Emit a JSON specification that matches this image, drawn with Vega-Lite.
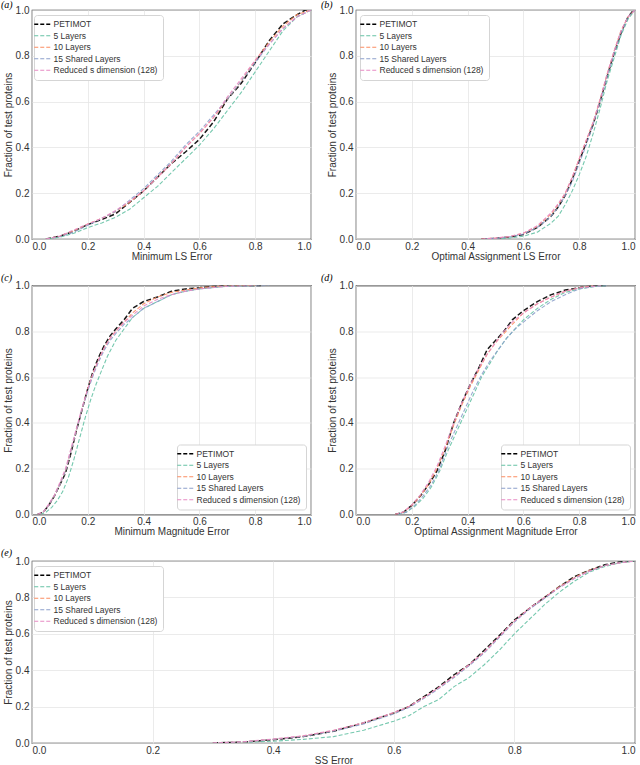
{
  "$schema": "https://vega.github.io/schema/vega-lite/v6.json",
  "padding": {"left": 0, "top": -1, "right": 0, "bottom": 0},
  "background": "white",
  "spacing": 9.5,
  "resolve": {"scale": {"color": "independent"}, "legend": {"color": "independent"}},
  "datasets": {
    "a": [
      {"s":"PETIMOT","x":0.05,"y":0},{"s":"PETIMOT","x":0.1,"y":0.012},{"s":"PETIMOT","x":0.15,"y":0.034},{"s":"PETIMOT","x":0.2,"y":0.063},{"s":"PETIMOT","x":0.25,"y":0.085},{"s":"PETIMOT","x":0.3,"y":0.11},{"s":"PETIMOT","x":0.35,"y":0.16},{"s":"PETIMOT","x":0.4,"y":0.21},{"s":"PETIMOT","x":0.45,"y":0.27},{"s":"PETIMOT","x":0.5,"y":0.33},{"s":"PETIMOT","x":0.55,"y":0.38},{"s":"PETIMOT","x":0.6,"y":0.435},{"s":"PETIMOT","x":0.65,"y":0.51},{"s":"PETIMOT","x":0.7,"y":0.61},{"s":"PETIMOT","x":0.75,"y":0.68},{"s":"PETIMOT","x":0.8,"y":0.77},{"s":"PETIMOT","x":0.85,"y":0.866},{"s":"PETIMOT","x":0.9,"y":0.94},{"s":"PETIMOT","x":0.95,"y":0.98},{"s":"PETIMOT","x":0.98,"y":1.0},{"s":"PETIMOT","x":1.0,"y":1.0},
      {"s":"5 Layers","x":0.06,"y":0},{"s":"5 Layers","x":0.1,"y":0.008},{"s":"5 Layers","x":0.15,"y":0.025},{"s":"5 Layers","x":0.2,"y":0.05},{"s":"5 Layers","x":0.25,"y":0.07},{"s":"5 Layers","x":0.3,"y":0.095},{"s":"5 Layers","x":0.35,"y":0.13},{"s":"5 Layers","x":0.4,"y":0.18},{"s":"5 Layers","x":0.45,"y":0.23},{"s":"5 Layers","x":0.5,"y":0.29},{"s":"5 Layers","x":0.55,"y":0.35},{"s":"5 Layers","x":0.6,"y":0.41},{"s":"5 Layers","x":0.65,"y":0.48},{"s":"5 Layers","x":0.7,"y":0.56},{"s":"5 Layers","x":0.75,"y":0.64},{"s":"5 Layers","x":0.8,"y":0.73},{"s":"5 Layers","x":0.85,"y":0.82},{"s":"5 Layers","x":0.9,"y":0.91},{"s":"5 Layers","x":0.95,"y":0.97},{"s":"5 Layers","x":1.0,"y":1.0},
      {"s":"10 Layers","x":0.05,"y":0},{"s":"10 Layers","x":0.1,"y":0.012},{"s":"10 Layers","x":0.15,"y":0.035},{"s":"10 Layers","x":0.2,"y":0.065},{"s":"10 Layers","x":0.25,"y":0.09},{"s":"10 Layers","x":0.3,"y":0.12},{"s":"10 Layers","x":0.35,"y":0.16},{"s":"10 Layers","x":0.4,"y":0.21},{"s":"10 Layers","x":0.45,"y":0.27},{"s":"10 Layers","x":0.5,"y":0.33},{"s":"10 Layers","x":0.55,"y":0.4},{"s":"10 Layers","x":0.6,"y":0.46},{"s":"10 Layers","x":0.65,"y":0.53},{"s":"10 Layers","x":0.7,"y":0.61},{"s":"10 Layers","x":0.75,"y":0.69},{"s":"10 Layers","x":0.8,"y":0.78},{"s":"10 Layers","x":0.85,"y":0.86},{"s":"10 Layers","x":0.9,"y":0.93},{"s":"10 Layers","x":0.95,"y":0.98},{"s":"10 Layers","x":1.0,"y":1.0},
      {"s":"15 Shared Layers","x":0.05,"y":0},{"s":"15 Shared Layers","x":0.1,"y":0.01},{"s":"15 Shared Layers","x":0.15,"y":0.03},{"s":"15 Shared Layers","x":0.2,"y":0.06},{"s":"15 Shared Layers","x":0.25,"y":0.09},{"s":"15 Shared Layers","x":0.3,"y":0.12},{"s":"15 Shared Layers","x":0.35,"y":0.17},{"s":"15 Shared Layers","x":0.4,"y":0.22},{"s":"15 Shared Layers","x":0.45,"y":0.28},{"s":"15 Shared Layers","x":0.5,"y":0.34},{"s":"15 Shared Layers","x":0.55,"y":0.41},{"s":"15 Shared Layers","x":0.6,"y":0.47},{"s":"15 Shared Layers","x":0.65,"y":0.54},{"s":"15 Shared Layers","x":0.7,"y":0.61},{"s":"15 Shared Layers","x":0.75,"y":0.69},{"s":"15 Shared Layers","x":0.8,"y":0.77},{"s":"15 Shared Layers","x":0.85,"y":0.85},{"s":"15 Shared Layers","x":0.9,"y":0.92},{"s":"15 Shared Layers","x":0.95,"y":0.97},{"s":"15 Shared Layers","x":1.0,"y":1.0},
      {"s":"Reduced s dimension (128)","x":0.05,"y":0},{"s":"Reduced s dimension (128)","x":0.1,"y":0.013},{"s":"Reduced s dimension (128)","x":0.15,"y":0.04},{"s":"Reduced s dimension (128)","x":0.2,"y":0.065},{"s":"Reduced s dimension (128)","x":0.25,"y":0.09},{"s":"Reduced s dimension (128)","x":0.3,"y":0.125},{"s":"Reduced s dimension (128)","x":0.35,"y":0.165},{"s":"Reduced s dimension (128)","x":0.4,"y":0.21},{"s":"Reduced s dimension (128)","x":0.45,"y":0.27},{"s":"Reduced s dimension (128)","x":0.5,"y":0.33},{"s":"Reduced s dimension (128)","x":0.55,"y":0.4},{"s":"Reduced s dimension (128)","x":0.6,"y":0.46},{"s":"Reduced s dimension (128)","x":0.65,"y":0.53},{"s":"Reduced s dimension (128)","x":0.7,"y":0.62},{"s":"Reduced s dimension (128)","x":0.75,"y":0.7},{"s":"Reduced s dimension (128)","x":0.8,"y":0.78},{"s":"Reduced s dimension (128)","x":0.85,"y":0.85},{"s":"Reduced s dimension (128)","x":0.9,"y":0.92},{"s":"Reduced s dimension (128)","x":0.95,"y":0.97},{"s":"Reduced s dimension (128)","x":1.0,"y":1.0}
    ],
    "b": [
      {"s":"PETIMOT","x":0.45,"y":0},{"s":"PETIMOT","x":0.5,"y":0.003},{"s":"PETIMOT","x":0.55,"y":0.008},{"s":"PETIMOT","x":0.6,"y":0.02},{"s":"PETIMOT","x":0.65,"y":0.05},{"s":"PETIMOT","x":0.7,"y":0.1},{"s":"PETIMOT","x":0.725,"y":0.14},{"s":"PETIMOT","x":0.75,"y":0.19},{"s":"PETIMOT","x":0.775,"y":0.26},{"s":"PETIMOT","x":0.8,"y":0.34},{"s":"PETIMOT","x":0.825,"y":0.42},{"s":"PETIMOT","x":0.85,"y":0.5},{"s":"PETIMOT","x":0.875,"y":0.6},{"s":"PETIMOT","x":0.9,"y":0.71},{"s":"PETIMOT","x":0.925,"y":0.81},{"s":"PETIMOT","x":0.95,"y":0.9},{"s":"PETIMOT","x":0.975,"y":0.97},{"s":"PETIMOT","x":0.995,"y":1.0},
      {"s":"5 Layers","x":0.5,"y":0},{"s":"5 Layers","x":0.55,"y":0.004},{"s":"5 Layers","x":0.6,"y":0.012},{"s":"5 Layers","x":0.65,"y":0.03},{"s":"5 Layers","x":0.7,"y":0.07},{"s":"5 Layers","x":0.725,"y":0.1},{"s":"5 Layers","x":0.75,"y":0.15},{"s":"5 Layers","x":0.775,"y":0.21},{"s":"5 Layers","x":0.8,"y":0.28},{"s":"5 Layers","x":0.825,"y":0.36},{"s":"5 Layers","x":0.85,"y":0.46},{"s":"5 Layers","x":0.875,"y":0.57},{"s":"5 Layers","x":0.9,"y":0.69},{"s":"5 Layers","x":0.925,"y":0.79},{"s":"5 Layers","x":0.95,"y":0.89},{"s":"5 Layers","x":0.975,"y":0.96},{"s":"5 Layers","x":1.0,"y":1.0},
      {"s":"10 Layers","x":0.45,"y":0},{"s":"10 Layers","x":0.5,"y":0.004},{"s":"10 Layers","x":0.55,"y":0.01},{"s":"10 Layers","x":0.6,"y":0.025},{"s":"10 Layers","x":0.65,"y":0.055},{"s":"10 Layers","x":0.7,"y":0.11},{"s":"10 Layers","x":0.725,"y":0.15},{"s":"10 Layers","x":0.75,"y":0.2},{"s":"10 Layers","x":0.775,"y":0.27},{"s":"10 Layers","x":0.8,"y":0.35},{"s":"10 Layers","x":0.825,"y":0.43},{"s":"10 Layers","x":0.85,"y":0.51},{"s":"10 Layers","x":0.875,"y":0.61},{"s":"10 Layers","x":0.9,"y":0.72},{"s":"10 Layers","x":0.925,"y":0.82},{"s":"10 Layers","x":0.95,"y":0.91},{"s":"10 Layers","x":0.975,"y":0.97},{"s":"10 Layers","x":1.0,"y":1.0},
      {"s":"15 Shared Layers","x":0.46,"y":0},{"s":"15 Shared Layers","x":0.5,"y":0.003},{"s":"15 Shared Layers","x":0.55,"y":0.009},{"s":"15 Shared Layers","x":0.6,"y":0.022},{"s":"15 Shared Layers","x":0.65,"y":0.05},{"s":"15 Shared Layers","x":0.7,"y":0.1},{"s":"15 Shared Layers","x":0.725,"y":0.14},{"s":"15 Shared Layers","x":0.75,"y":0.19},{"s":"15 Shared Layers","x":0.775,"y":0.25},{"s":"15 Shared Layers","x":0.8,"y":0.33},{"s":"15 Shared Layers","x":0.825,"y":0.41},{"s":"15 Shared Layers","x":0.85,"y":0.5},{"s":"15 Shared Layers","x":0.875,"y":0.6},{"s":"15 Shared Layers","x":0.9,"y":0.71},{"s":"15 Shared Layers","x":0.925,"y":0.81},{"s":"15 Shared Layers","x":0.95,"y":0.9},{"s":"15 Shared Layers","x":0.975,"y":0.97},{"s":"15 Shared Layers","x":1.0,"y":1.0},
      {"s":"Reduced s dimension (128)","x":0.45,"y":0},{"s":"Reduced s dimension (128)","x":0.5,"y":0.004},{"s":"Reduced s dimension (128)","x":0.55,"y":0.011},{"s":"Reduced s dimension (128)","x":0.6,"y":0.026},{"s":"Reduced s dimension (128)","x":0.65,"y":0.058},{"s":"Reduced s dimension (128)","x":0.7,"y":0.115},{"s":"Reduced s dimension (128)","x":0.725,"y":0.155},{"s":"Reduced s dimension (128)","x":0.75,"y":0.2},{"s":"Reduced s dimension (128)","x":0.775,"y":0.27},{"s":"Reduced s dimension (128)","x":0.8,"y":0.35},{"s":"Reduced s dimension (128)","x":0.825,"y":0.43},{"s":"Reduced s dimension (128)","x":0.85,"y":0.51},{"s":"Reduced s dimension (128)","x":0.875,"y":0.61},{"s":"Reduced s dimension (128)","x":0.9,"y":0.72},{"s":"Reduced s dimension (128)","x":0.925,"y":0.82},{"s":"Reduced s dimension (128)","x":0.95,"y":0.91},{"s":"Reduced s dimension (128)","x":0.975,"y":0.97},{"s":"Reduced s dimension (128)","x":1.0,"y":1.0}
    ],
    "c": [
      {"s":"PETIMOT","x":0.02,"y":0},{"s":"PETIMOT","x":0.04,"y":0.01},{"s":"PETIMOT","x":0.06,"y":0.04},{"s":"PETIMOT","x":0.08,"y":0.08},{"s":"PETIMOT","x":0.1,"y":0.13},{"s":"PETIMOT","x":0.12,"y":0.18},{"s":"PETIMOT","x":0.14,"y":0.27},{"s":"PETIMOT","x":0.16,"y":0.37},{"s":"PETIMOT","x":0.18,"y":0.46},{"s":"PETIMOT","x":0.2,"y":0.55},{"s":"PETIMOT","x":0.22,"y":0.63},{"s":"PETIMOT","x":0.24,"y":0.69},{"s":"PETIMOT","x":0.26,"y":0.74},{"s":"PETIMOT","x":0.28,"y":0.78},{"s":"PETIMOT","x":0.3,"y":0.81},{"s":"PETIMOT","x":0.33,"y":0.85},{"s":"PETIMOT","x":0.36,"y":0.9},{"s":"PETIMOT","x":0.4,"y":0.93},{"s":"PETIMOT","x":0.45,"y":0.95},{"s":"PETIMOT","x":0.5,"y":0.975},{"s":"PETIMOT","x":0.55,"y":0.985},{"s":"PETIMOT","x":0.6,"y":0.99},{"s":"PETIMOT","x":0.65,"y":0.997},{"s":"PETIMOT","x":0.7,"y":1.0},{"s":"PETIMOT","x":0.82,"y":1.0},
      {"s":"5 Layers","x":0.03,"y":0},{"s":"5 Layers","x":0.05,"y":0.01},{"s":"5 Layers","x":0.07,"y":0.03},{"s":"5 Layers","x":0.09,"y":0.06},{"s":"5 Layers","x":0.11,"y":0.1},{"s":"5 Layers","x":0.13,"y":0.16},{"s":"5 Layers","x":0.15,"y":0.24},{"s":"5 Layers","x":0.17,"y":0.33},{"s":"5 Layers","x":0.19,"y":0.42},{"s":"5 Layers","x":0.21,"y":0.5},{"s":"5 Layers","x":0.23,"y":0.57},{"s":"5 Layers","x":0.25,"y":0.63},{"s":"5 Layers","x":0.27,"y":0.69},{"s":"5 Layers","x":0.3,"y":0.76},{"s":"5 Layers","x":0.33,"y":0.81},{"s":"5 Layers","x":0.36,"y":0.86},{"s":"5 Layers","x":0.4,"y":0.9},{"s":"5 Layers","x":0.45,"y":0.93},{"s":"5 Layers","x":0.5,"y":0.96},{"s":"5 Layers","x":0.55,"y":0.975},{"s":"5 Layers","x":0.6,"y":0.985},{"s":"5 Layers","x":0.7,"y":0.997},{"s":"5 Layers","x":0.8,"y":1.0},
      {"s":"10 Layers","x":0.02,"y":0},{"s":"10 Layers","x":0.04,"y":0.01},{"s":"10 Layers","x":0.06,"y":0.04},{"s":"10 Layers","x":0.08,"y":0.08},{"s":"10 Layers","x":0.1,"y":0.13},{"s":"10 Layers","x":0.12,"y":0.19},{"s":"10 Layers","x":0.14,"y":0.28},{"s":"10 Layers","x":0.16,"y":0.37},{"s":"10 Layers","x":0.18,"y":0.46},{"s":"10 Layers","x":0.2,"y":0.55},{"s":"10 Layers","x":0.22,"y":0.62},{"s":"10 Layers","x":0.24,"y":0.68},{"s":"10 Layers","x":0.26,"y":0.73},{"s":"10 Layers","x":0.28,"y":0.77},{"s":"10 Layers","x":0.3,"y":0.8},{"s":"10 Layers","x":0.33,"y":0.84},{"s":"10 Layers","x":0.36,"y":0.88},{"s":"10 Layers","x":0.4,"y":0.92},{"s":"10 Layers","x":0.45,"y":0.95},{"s":"10 Layers","x":0.5,"y":0.97},{"s":"10 Layers","x":0.55,"y":0.98},{"s":"10 Layers","x":0.6,"y":0.99},{"s":"10 Layers","x":0.7,"y":1.0},{"s":"10 Layers","x":0.8,"y":1.0},
      {"s":"15 Shared Layers","x":0.02,"y":0},{"s":"15 Shared Layers","x":0.04,"y":0.01},{"s":"15 Shared Layers","x":0.06,"y":0.04},{"s":"15 Shared Layers","x":0.08,"y":0.08},{"s":"15 Shared Layers","x":0.1,"y":0.13},{"s":"15 Shared Layers","x":0.12,"y":0.19},{"s":"15 Shared Layers","x":0.14,"y":0.28},{"s":"15 Shared Layers","x":0.16,"y":0.37},{"s":"15 Shared Layers","x":0.18,"y":0.46},{"s":"15 Shared Layers","x":0.2,"y":0.54},{"s":"15 Shared Layers","x":0.22,"y":0.61},{"s":"15 Shared Layers","x":0.24,"y":0.67},{"s":"15 Shared Layers","x":0.26,"y":0.72},{"s":"15 Shared Layers","x":0.28,"y":0.76},{"s":"15 Shared Layers","x":0.3,"y":0.79},{"s":"15 Shared Layers","x":0.33,"y":0.83},{"s":"15 Shared Layers","x":0.36,"y":0.86},{"s":"15 Shared Layers","x":0.4,"y":0.9},{"s":"15 Shared Layers","x":0.45,"y":0.93},{"s":"15 Shared Layers","x":0.5,"y":0.96},{"s":"15 Shared Layers","x":0.55,"y":0.975},{"s":"15 Shared Layers","x":0.6,"y":0.985},{"s":"15 Shared Layers","x":0.7,"y":0.997},{"s":"15 Shared Layers","x":0.85,"y":1.0},
      {"s":"Reduced s dimension (128)","x":0.02,"y":0},{"s":"Reduced s dimension (128)","x":0.04,"y":0.012},{"s":"Reduced s dimension (128)","x":0.06,"y":0.045},{"s":"Reduced s dimension (128)","x":0.08,"y":0.085},{"s":"Reduced s dimension (128)","x":0.1,"y":0.14},{"s":"Reduced s dimension (128)","x":0.12,"y":0.2},{"s":"Reduced s dimension (128)","x":0.14,"y":0.29},{"s":"Reduced s dimension (128)","x":0.16,"y":0.38},{"s":"Reduced s dimension (128)","x":0.18,"y":0.47},{"s":"Reduced s dimension (128)","x":0.2,"y":0.55},{"s":"Reduced s dimension (128)","x":0.22,"y":0.62},{"s":"Reduced s dimension (128)","x":0.24,"y":0.68},{"s":"Reduced s dimension (128)","x":0.26,"y":0.73},{"s":"Reduced s dimension (128)","x":0.28,"y":0.77},{"s":"Reduced s dimension (128)","x":0.3,"y":0.8},{"s":"Reduced s dimension (128)","x":0.33,"y":0.84},{"s":"Reduced s dimension (128)","x":0.36,"y":0.87},{"s":"Reduced s dimension (128)","x":0.4,"y":0.91},{"s":"Reduced s dimension (128)","x":0.45,"y":0.94},{"s":"Reduced s dimension (128)","x":0.5,"y":0.96},{"s":"Reduced s dimension (128)","x":0.55,"y":0.975},{"s":"Reduced s dimension (128)","x":0.6,"y":0.985},{"s":"Reduced s dimension (128)","x":0.7,"y":0.997},{"s":"Reduced s dimension (128)","x":0.8,"y":1.0}
    ],
    "d": [
      {"s":"PETIMOT","x":0.14,"y":0},{"s":"PETIMOT","x":0.17,"y":0.01},{"s":"PETIMOT","x":0.2,"y":0.04},{"s":"PETIMOT","x":0.23,"y":0.08},{"s":"PETIMOT","x":0.26,"y":0.13},{"s":"PETIMOT","x":0.29,"y":0.19},{"s":"PETIMOT","x":0.32,"y":0.28},{"s":"PETIMOT","x":0.35,"y":0.4},{"s":"PETIMOT","x":0.38,"y":0.49},{"s":"PETIMOT","x":0.41,"y":0.57},{"s":"PETIMOT","x":0.44,"y":0.64},{"s":"PETIMOT","x":0.47,"y":0.72},{"s":"PETIMOT","x":0.5,"y":0.76},{"s":"PETIMOT","x":0.53,"y":0.8},{"s":"PETIMOT","x":0.56,"y":0.85},{"s":"PETIMOT","x":0.6,"y":0.89},{"s":"PETIMOT","x":0.65,"y":0.93},{"s":"PETIMOT","x":0.7,"y":0.96},{"s":"PETIMOT","x":0.75,"y":0.98},{"s":"PETIMOT","x":0.8,"y":0.99},{"s":"PETIMOT","x":0.85,"y":1.0},{"s":"PETIMOT","x":0.9,"y":1.0},
      {"s":"5 Layers","x":0.15,"y":0},{"s":"5 Layers","x":0.18,"y":0.01},{"s":"5 Layers","x":0.21,"y":0.035},{"s":"5 Layers","x":0.24,"y":0.07},{"s":"5 Layers","x":0.27,"y":0.12},{"s":"5 Layers","x":0.3,"y":0.19},{"s":"5 Layers","x":0.33,"y":0.28},{"s":"5 Layers","x":0.36,"y":0.36},{"s":"5 Layers","x":0.39,"y":0.44},{"s":"5 Layers","x":0.42,"y":0.52},{"s":"5 Layers","x":0.45,"y":0.6},{"s":"5 Layers","x":0.48,"y":0.66},{"s":"5 Layers","x":0.51,"y":0.72},{"s":"5 Layers","x":0.54,"y":0.77},{"s":"5 Layers","x":0.57,"y":0.81},{"s":"5 Layers","x":0.6,"y":0.85},{"s":"5 Layers","x":0.65,"y":0.9},{"s":"5 Layers","x":0.7,"y":0.94},{"s":"5 Layers","x":0.75,"y":0.97},{"s":"5 Layers","x":0.8,"y":0.985},{"s":"5 Layers","x":0.85,"y":0.995},{"s":"5 Layers","x":0.9,"y":1.0},
      {"s":"10 Layers","x":0.14,"y":0},{"s":"10 Layers","x":0.17,"y":0.01},{"s":"10 Layers","x":0.2,"y":0.04},{"s":"10 Layers","x":0.23,"y":0.08},{"s":"10 Layers","x":0.26,"y":0.13},{"s":"10 Layers","x":0.29,"y":0.2},{"s":"10 Layers","x":0.32,"y":0.29},{"s":"10 Layers","x":0.35,"y":0.39},{"s":"10 Layers","x":0.38,"y":0.48},{"s":"10 Layers","x":0.41,"y":0.56},{"s":"10 Layers","x":0.44,"y":0.63},{"s":"10 Layers","x":0.47,"y":0.7},{"s":"10 Layers","x":0.5,"y":0.75},{"s":"10 Layers","x":0.53,"y":0.79},{"s":"10 Layers","x":0.56,"y":0.83},{"s":"10 Layers","x":0.6,"y":0.88},{"s":"10 Layers","x":0.65,"y":0.92},{"s":"10 Layers","x":0.7,"y":0.95},{"s":"10 Layers","x":0.75,"y":0.975},{"s":"10 Layers","x":0.8,"y":0.99},{"s":"10 Layers","x":0.85,"y":1.0},
      {"s":"15 Shared Layers","x":0.15,"y":0},{"s":"15 Shared Layers","x":0.18,"y":0.01},{"s":"15 Shared Layers","x":0.21,"y":0.04},{"s":"15 Shared Layers","x":0.24,"y":0.08},{"s":"15 Shared Layers","x":0.27,"y":0.13},{"s":"15 Shared Layers","x":0.3,"y":0.2},{"s":"15 Shared Layers","x":0.33,"y":0.3},{"s":"15 Shared Layers","x":0.36,"y":0.38},{"s":"15 Shared Layers","x":0.39,"y":0.46},{"s":"15 Shared Layers","x":0.42,"y":0.54},{"s":"15 Shared Layers","x":0.45,"y":0.61},{"s":"15 Shared Layers","x":0.48,"y":0.67},{"s":"15 Shared Layers","x":0.51,"y":0.72},{"s":"15 Shared Layers","x":0.54,"y":0.77},{"s":"15 Shared Layers","x":0.57,"y":0.81},{"s":"15 Shared Layers","x":0.6,"y":0.84},{"s":"15 Shared Layers","x":0.65,"y":0.89},{"s":"15 Shared Layers","x":0.7,"y":0.93},{"s":"15 Shared Layers","x":0.75,"y":0.96},{"s":"15 Shared Layers","x":0.8,"y":0.985},{"s":"15 Shared Layers","x":0.85,"y":0.995},{"s":"15 Shared Layers","x":0.9,"y":1.0},
      {"s":"Reduced s dimension (128)","x":0.14,"y":0},{"s":"Reduced s dimension (128)","x":0.17,"y":0.012},{"s":"Reduced s dimension (128)","x":0.2,"y":0.042},{"s":"Reduced s dimension (128)","x":0.23,"y":0.085},{"s":"Reduced s dimension (128)","x":0.26,"y":0.14},{"s":"Reduced s dimension (128)","x":0.29,"y":0.21},{"s":"Reduced s dimension (128)","x":0.32,"y":0.3},{"s":"Reduced s dimension (128)","x":0.35,"y":0.4},{"s":"Reduced s dimension (128)","x":0.38,"y":0.49},{"s":"Reduced s dimension (128)","x":0.41,"y":0.57},{"s":"Reduced s dimension (128)","x":0.44,"y":0.64},{"s":"Reduced s dimension (128)","x":0.47,"y":0.7},{"s":"Reduced s dimension (128)","x":0.5,"y":0.75},{"s":"Reduced s dimension (128)","x":0.53,"y":0.8},{"s":"Reduced s dimension (128)","x":0.56,"y":0.84},{"s":"Reduced s dimension (128)","x":0.6,"y":0.88},{"s":"Reduced s dimension (128)","x":0.65,"y":0.92},{"s":"Reduced s dimension (128)","x":0.7,"y":0.95},{"s":"Reduced s dimension (128)","x":0.75,"y":0.975},{"s":"Reduced s dimension (128)","x":0.8,"y":0.99},{"s":"Reduced s dimension (128)","x":0.88,"y":1.0}
    ],
    "e": [
      {"s":"PETIMOT","x":0.3,"y":0},{"s":"PETIMOT","x":0.35,"y":0.005},{"s":"PETIMOT","x":0.4,"y":0.018},{"s":"PETIMOT","x":0.45,"y":0.035},{"s":"PETIMOT","x":0.5,"y":0.065},{"s":"PETIMOT","x":0.55,"y":0.11},{"s":"PETIMOT","x":0.6,"y":0.165},{"s":"PETIMOT","x":0.625,"y":0.2},{"s":"PETIMOT","x":0.65,"y":0.255},{"s":"PETIMOT","x":0.675,"y":0.31},{"s":"PETIMOT","x":0.7,"y":0.375},{"s":"PETIMOT","x":0.725,"y":0.43},{"s":"PETIMOT","x":0.75,"y":0.51},{"s":"PETIMOT","x":0.775,"y":0.59},{"s":"PETIMOT","x":0.8,"y":0.675},{"s":"PETIMOT","x":0.825,"y":0.74},{"s":"PETIMOT","x":0.85,"y":0.8},{"s":"PETIMOT","x":0.875,"y":0.86},{"s":"PETIMOT","x":0.9,"y":0.915},{"s":"PETIMOT","x":0.925,"y":0.95},{"s":"PETIMOT","x":0.95,"y":0.98},{"s":"PETIMOT","x":0.975,"y":0.995},{"s":"PETIMOT","x":1.0,"y":1.0},
      {"s":"5 Layers","x":0.32,"y":0},{"s":"5 Layers","x":0.4,"y":0.01},{"s":"5 Layers","x":0.45,"y":0.02},{"s":"5 Layers","x":0.5,"y":0.035},{"s":"5 Layers","x":0.55,"y":0.07},{"s":"5 Layers","x":0.6,"y":0.12},{"s":"5 Layers","x":0.625,"y":0.15},{"s":"5 Layers","x":0.65,"y":0.2},{"s":"5 Layers","x":0.675,"y":0.24},{"s":"5 Layers","x":0.7,"y":0.31},{"s":"5 Layers","x":0.725,"y":0.36},{"s":"5 Layers","x":0.75,"y":0.43},{"s":"5 Layers","x":0.775,"y":0.51},{"s":"5 Layers","x":0.8,"y":0.6},{"s":"5 Layers","x":0.825,"y":0.68},{"s":"5 Layers","x":0.85,"y":0.76},{"s":"5 Layers","x":0.875,"y":0.83},{"s":"5 Layers","x":0.9,"y":0.89},{"s":"5 Layers","x":0.925,"y":0.94},{"s":"5 Layers","x":0.95,"y":0.97},{"s":"5 Layers","x":0.975,"y":0.99},{"s":"5 Layers","x":1.0,"y":1.0},
      {"s":"10 Layers","x":0.3,"y":0},{"s":"10 Layers","x":0.35,"y":0.006},{"s":"10 Layers","x":0.4,"y":0.02},{"s":"10 Layers","x":0.45,"y":0.038},{"s":"10 Layers","x":0.5,"y":0.068},{"s":"10 Layers","x":0.55,"y":0.11},{"s":"10 Layers","x":0.6,"y":0.165},{"s":"10 Layers","x":0.625,"y":0.2},{"s":"10 Layers","x":0.65,"y":0.25},{"s":"10 Layers","x":0.675,"y":0.305},{"s":"10 Layers","x":0.7,"y":0.365},{"s":"10 Layers","x":0.725,"y":0.43},{"s":"10 Layers","x":0.75,"y":0.5},{"s":"10 Layers","x":0.775,"y":0.585},{"s":"10 Layers","x":0.8,"y":0.67},{"s":"10 Layers","x":0.825,"y":0.74},{"s":"10 Layers","x":0.85,"y":0.8},{"s":"10 Layers","x":0.875,"y":0.86},{"s":"10 Layers","x":0.9,"y":0.91},{"s":"10 Layers","x":0.925,"y":0.95},{"s":"10 Layers","x":0.95,"y":0.975},{"s":"10 Layers","x":0.975,"y":0.99},{"s":"10 Layers","x":1.0,"y":1.0},
      {"s":"15 Shared Layers","x":0.3,"y":0},{"s":"15 Shared Layers","x":0.35,"y":0.006},{"s":"15 Shared Layers","x":0.4,"y":0.02},{"s":"15 Shared Layers","x":0.45,"y":0.036},{"s":"15 Shared Layers","x":0.5,"y":0.065},{"s":"15 Shared Layers","x":0.55,"y":0.105},{"s":"15 Shared Layers","x":0.6,"y":0.16},{"s":"15 Shared Layers","x":0.625,"y":0.195},{"s":"15 Shared Layers","x":0.65,"y":0.245},{"s":"15 Shared Layers","x":0.675,"y":0.3},{"s":"15 Shared Layers","x":0.7,"y":0.36},{"s":"15 Shared Layers","x":0.725,"y":0.425},{"s":"15 Shared Layers","x":0.75,"y":0.495},{"s":"15 Shared Layers","x":0.775,"y":0.58},{"s":"15 Shared Layers","x":0.8,"y":0.665},{"s":"15 Shared Layers","x":0.825,"y":0.735},{"s":"15 Shared Layers","x":0.85,"y":0.795},{"s":"15 Shared Layers","x":0.875,"y":0.855},{"s":"15 Shared Layers","x":0.9,"y":0.905},{"s":"15 Shared Layers","x":0.925,"y":0.945},{"s":"15 Shared Layers","x":0.95,"y":0.975},{"s":"15 Shared Layers","x":0.975,"y":0.99},{"s":"15 Shared Layers","x":1.0,"y":1.0},
      {"s":"Reduced s dimension (128)","x":0.3,"y":0},{"s":"Reduced s dimension (128)","x":0.35,"y":0.007},{"s":"Reduced s dimension (128)","x":0.4,"y":0.022},{"s":"Reduced s dimension (128)","x":0.45,"y":0.04},{"s":"Reduced s dimension (128)","x":0.5,"y":0.07},{"s":"Reduced s dimension (128)","x":0.55,"y":0.112},{"s":"Reduced s dimension (128)","x":0.6,"y":0.168},{"s":"Reduced s dimension (128)","x":0.625,"y":0.2},{"s":"Reduced s dimension (128)","x":0.65,"y":0.25},{"s":"Reduced s dimension (128)","x":0.675,"y":0.305},{"s":"Reduced s dimension (128)","x":0.7,"y":0.365},{"s":"Reduced s dimension (128)","x":0.725,"y":0.43},{"s":"Reduced s dimension (128)","x":0.75,"y":0.5},{"s":"Reduced s dimension (128)","x":0.775,"y":0.585},{"s":"Reduced s dimension (128)","x":0.8,"y":0.67},{"s":"Reduced s dimension (128)","x":0.825,"y":0.74},{"s":"Reduced s dimension (128)","x":0.85,"y":0.8},{"s":"Reduced s dimension (128)","x":0.875,"y":0.855},{"s":"Reduced s dimension (128)","x":0.9,"y":0.905},{"s":"Reduced s dimension (128)","x":0.925,"y":0.945},{"s":"Reduced s dimension (128)","x":0.95,"y":0.975},{"s":"Reduced s dimension (128)","x":0.975,"y":0.99},{"s":"Reduced s dimension (128)","x":1.0,"y":1.0}
    ]
  },
  "vconcat": [
    {
      "hconcat": [
        {
          "width": 279, "height": 229,
          "title": {"text": "(a)", "dx": -31, "dy": 3},
          "data": {"name": "a"},
          "mark": {"type": "line", "clip": true},
          "encoding": {
            "x": {"field": "x", "type": "quantitative", "scale": {"domain": [0, 1], "nice": false}, "axis": {"title": "Minimum LS Error"}},
            "y": {"field": "y", "type": "quantitative", "scale": {"domain": [0, 1], "nice": false}, "axis": {"title": "Fraction of test proteins"}},
            "color": {"field": "s", "type": "nominal", "scale": {"domain": ["PETIMOT", "5 Layers", "10 Layers", "15 Shared Layers", "Reduced s dimension (128)"], "range": ["#000000", "#66c2a5", "#fc8d62", "#8da0cb", "#e78ac3"]}, "legend": {"orient": "none", "legendX": 2, "legendY": 5, "encode": {"symbols": {"update": {"strokeWidth": {"signal": "datum.value === 'PETIMOT' ? 1.6 : 1.1"}}}}}},
            "strokeWidth": {"condition": {"test": "datum.s === 'PETIMOT'", "value": 1.5}, "value": 1.1},
            "strokeDash": {"condition": {"test": "datum.s === 'PETIMOT'", "value": [5, 2.5]}, "value": [4, 2]}
          }
        },
        {
          "width": 279, "height": 229,
          "title": {"text": "(b)", "dx": -35, "dy": 3},
          "data": {"name": "b"},
          "mark": {"type": "line", "clip": true},
          "encoding": {
            "x": {"field": "x", "type": "quantitative", "scale": {"domain": [0, 1], "nice": false}, "axis": {"title": "Optimal Assignment LS Error"}},
            "y": {"field": "y", "type": "quantitative", "scale": {"domain": [0, 1], "nice": false}, "axis": {"title": "Fraction of test proteins"}},
            "color": {"field": "s", "type": "nominal", "scale": {"domain": ["PETIMOT", "5 Layers", "10 Layers", "15 Shared Layers", "Reduced s dimension (128)"], "range": ["#000000", "#66c2a5", "#fc8d62", "#8da0cb", "#e78ac3"]}, "legend": {"orient": "none", "legendX": 4, "legendY": 5, "encode": {"symbols": {"update": {"strokeWidth": {"signal": "datum.value === 'PETIMOT' ? 1.6 : 1.1"}}}}}},
            "strokeWidth": {"condition": {"test": "datum.s === 'PETIMOT'", "value": 1.5}, "value": 1.1},
            "strokeDash": {"condition": {"test": "datum.s === 'PETIMOT'", "value": [5, 2.5]}, "value": [4, 2]}
          }
        }
      ],
      "spacing": 45,
      "bounds": "flush",
      "resolve": {"scale": {"color": "independent"}, "legend": {"color": "independent"}}
    },
    {
      "hconcat": [
        {
          "width": 279, "height": 229,
          "title": {"text": "(c)", "dx": -31},
          "data": {"name": "c"},
          "mark": {"type": "line", "clip": true},
          "encoding": {
            "x": {"field": "x", "type": "quantitative", "scale": {"domain": [0, 1], "nice": false}, "axis": {"title": "Minimum Magnitude Error"}},
            "y": {"field": "y", "type": "quantitative", "scale": {"domain": [0, 1], "nice": false}, "axis": {"title": "Fraction of test proteins"}},
            "color": {"field": "s", "type": "nominal", "scale": {"domain": ["PETIMOT", "5 Layers", "10 Layers", "15 Shared Layers", "Reduced s dimension (128)"], "range": ["#000000", "#66c2a5", "#fc8d62", "#8da0cb", "#e78ac3"]}, "legend": {"orient": "bottom-right", "offset": 5, "encode": {"symbols": {"update": {"strokeWidth": {"signal": "datum.value === 'PETIMOT' ? 1.6 : 1.1"}}}}}},
            "strokeWidth": {"condition": {"test": "datum.s === 'PETIMOT'", "value": 1.5}, "value": 1.1},
            "strokeDash": {"condition": {"test": "datum.s === 'PETIMOT'", "value": [5, 2.5]}, "value": [4, 2]}
          }
        },
        {
          "width": 279, "height": 229,
          "title": {"text": "(d)", "dx": -35},
          "data": {"name": "d"},
          "mark": {"type": "line", "clip": true},
          "encoding": {
            "x": {"field": "x", "type": "quantitative", "scale": {"domain": [0, 1], "nice": false}, "axis": {"title": "Optimal Assignment Magnitude Error"}},
            "y": {"field": "y", "type": "quantitative", "scale": {"domain": [0, 1], "nice": false}, "axis": {"title": "Fraction of test proteins"}},
            "color": {"field": "s", "type": "nominal", "scale": {"domain": ["PETIMOT", "5 Layers", "10 Layers", "15 Shared Layers", "Reduced s dimension (128)"], "range": ["#000000", "#66c2a5", "#fc8d62", "#8da0cb", "#e78ac3"]}, "legend": {"orient": "bottom-right", "offset": 5, "encode": {"symbols": {"update": {"strokeWidth": {"signal": "datum.value === 'PETIMOT' ? 1.6 : 1.1"}}}}}},
            "strokeWidth": {"condition": {"test": "datum.s === 'PETIMOT'", "value": 1.5}, "value": 1.1},
            "strokeDash": {"condition": {"test": "datum.s === 'PETIMOT'", "value": [5, 2.5]}, "value": [4, 2]}
          }
        }
      ],
      "spacing": 45,
      "bounds": "flush",
      "resolve": {"scale": {"color": "independent"}, "legend": {"color": "independent"}}
    },
    {
      "width": 603, "height": 182,
      "title": {"text": "(e)", "dx": -31},
      "data": {"name": "e"},
      "mark": {"type": "line", "clip": true},
      "encoding": {
        "x": {"field": "x", "type": "quantitative", "scale": {"domain": [0, 1], "nice": false}, "axis": {"title": "SS Error"}},
        "y": {"field": "y", "type": "quantitative", "scale": {"domain": [0, 1], "nice": false}, "axis": {"title": "Fraction of test proteins"}},
        "color": {"field": "s", "type": "nominal", "scale": {"domain": ["PETIMOT", "5 Layers", "10 Layers", "15 Shared Layers", "Reduced s dimension (128)"], "range": ["#000000", "#66c2a5", "#fc8d62", "#8da0cb", "#e78ac3"]}, "legend": {"orient": "none", "legendX": 2, "legendY": 5, "encode": {"symbols": {"update": {"strokeWidth": {"signal": "datum.value === 'PETIMOT' ? 1.6 : 1.1"}}}}}},
        "strokeWidth": {"condition": {"test": "datum.s === 'PETIMOT'", "value": 1.5}, "value": 1.1},
        "strokeDash": {"condition": {"test": "datum.s === 'PETIMOT'", "value": [5, 2.5]}, "value": [4, 2]}
      }
    }
  ],
  "config": {
    "font": "Liberation Sans",
    "view": {"stroke": "#333333", "strokeWidth": 1.2},
    "line": {"opacity": 0.9},
    "axis": {
      "grid": true, "gridColor": "#e6e6e6", "gridWidth": 0.8,
      "domain": false, "ticks": false, "tickCount": 5, "format": ".1f",
      "labelFont": "Liberation Sans", "labelFontSize": 10, "labelColor": "#333333", "labelPadding": 3,
      "titleFont": "Liberation Sans", "titleFontSize": 10, "titleFontWeight": "normal", "titleColor": "#333333", "titlePadding": 2
    },
    "axisX": {"titlePadding": 0, "labelPadding": 2},
    "legend": {
      "title": null, "padding": 5,
      "symbolType": "stroke", "symbolSize": 324, "symbolStrokeWidth": 1.1, "symbolDash": [4, 2],
      "labelFont": "Liberation Sans", "labelFontSize": 8.5, "labelColor": "#333333", "labelOffset": 6,
      "rowPadding": 2.5, "fillColor": "white", "strokeColor": "#d5d5d5", "cornerRadius": 3
    },
    "title": {"font": "Liberation Serif", "fontStyle": "italic", "fontWeight": "normal", "fontSize": 10, "color": "#000000", "anchor": "start", "frame": "group", "offset": -2}
  }
}
